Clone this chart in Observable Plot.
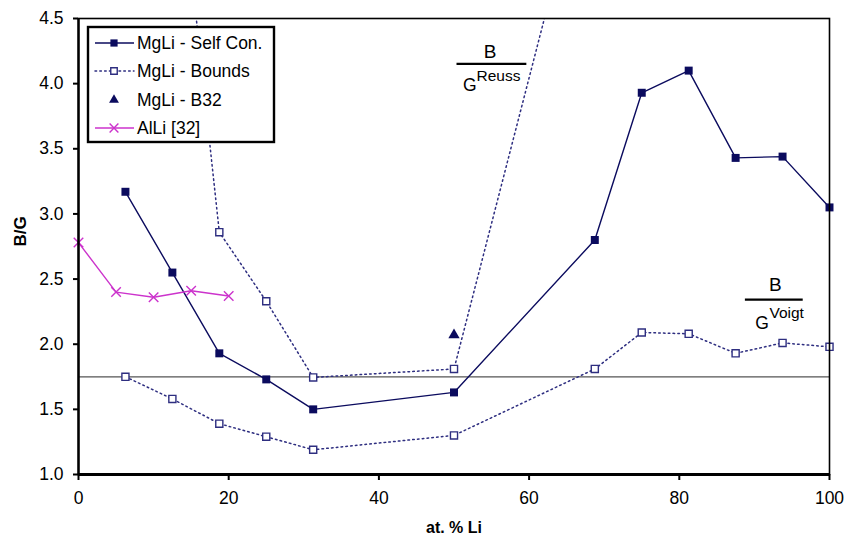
<!DOCTYPE html>
<html><head><meta charset="utf-8">
<script src="https://cdn.jsdelivr.net/npm/d3@7"></script>
<script src="https://cdn.jsdelivr.net/npm/@observablehq/plot@0.6"></script>
<style>
body{margin:0;background:#fff;font-family:"Liberation Sans",Arial,sans-serif;}
</style></head><body><div id="chart"></div>
<script>
// ---- data ----
const selfConX = [6.25, 12.5, 18.75, 25, 31.25, 50, 68.75, 75, 81.25, 87.5, 93.75, 100];
const selfConY = [3.17, 2.55, 1.93, 1.73, 1.50, 1.63, 2.80, 3.93, 4.10, 3.43, 3.44, 3.05];
const voigtX   = [6.25, 12.5, 18.75, 25, 31.25, 50, 68.75, 75, 81.25, 87.5, 93.75, 100];
const voigtY   = [1.75, 1.58, 1.39, 1.29, 1.19, 1.30, 1.81, 2.09, 2.08, 1.93, 2.01, 1.98];
const reussX   = [12.5, 18.75, 25, 31.25, 50, 68.75];
const reussY   = [6.2, 2.86, 2.33, 1.745, 1.81, 6.0];
const b32X     = [50];
const b32Y     = [2.07];
const alliX    = [0, 5, 10, 15, 20];
const alliY    = [2.78, 2.40, 2.36, 2.41, 2.37];
const refLine  = 1.75;
const xTicks   = [0, 20, 40, 60, 80, 100];
const yTicks   = [1.0, 1.5, 2.0, 2.5, 3.0, 3.5, 4.0, 4.5];
const legendLabels = ["MgLi - Self Con.", "MgLi - Bounds", "MgLi - B32", "AlLi [32]"];
// annotation anchors in data units
const reussB = {x: 54.8, y: 4.24}, reussBar = {x1: 50.4, x2: 59.7, y: 4.152},
      reussG = {x: 51.2, y: 3.99}, reussSup = {x: 53.0, y: 4.062};
const voigtB = {x: 92.8, y: 2.458}, voigtBar = {x1: 88.8, x2: 96.5, y: 2.343},
      voigtG = {x: 90.1, y: 2.161}, voigtSup = {x: 92.0, y: 2.238};

const zip = (xs, ys) => xs.map((x, i) => ({x, y: ys[i]}));
const selfCon = zip(selfConX, selfConY);
const voigt = zip(voigtX, voigtY);
const reuss = zip(reussX, reussY);
const b32 = zip(b32X, b32Y);
const alli = zip(alliX, alliY);

const NAVY = "#0b0b5e", BOUND = "#2e2e80", MAG = "#cc33cc";
const dots = "1.6,3.2";

const plot = Plot.plot({
  width: 847, height: 543,
  marginLeft: 78, marginRight: 18, marginTop: 18, marginBottom: 69,
  style: {fontFamily: "'Liberation Sans', Arial, sans-serif", fontSize: "17px", color: "#000", background: "#fff", overflow: "visible"},
  x: {domain: [0, 100]},
  y: {domain: [1, 4.5]},
  marks: [
    Plot.ruleY([refLine], {stroke: "#555", strokeWidth: 1.3}),
    Plot.line(reuss, {x: "x", y: "y", stroke: BOUND, strokeWidth: 1.5, strokeDasharray: dots, strokeLinecap: "round", clip: true}),
    Plot.line(voigt, {x: "x", y: "y", stroke: BOUND, strokeWidth: 1.5, strokeDasharray: dots, strokeLinecap: "round", clip: true}),
    Plot.line(selfCon, {x: "x", y: "y", stroke: NAVY, strokeWidth: 1.4}),
    Plot.line(alli, {x: "x", y: "y", stroke: MAG, strokeWidth: 1.4}),
    Plot.dot(reuss, {x: "x", y: "y", symbol: "square", r: 4, stroke: BOUND, fill: "#fff", strokeWidth: 1.4, clip: true}),
    Plot.dot(voigt, {x: "x", y: "y", symbol: "square", r: 4, stroke: BOUND, fill: "#fff", strokeWidth: 1.4}),
    Plot.dot(selfCon, {x: "x", y: "y", symbol: "square", r: 4.5, fill: NAVY, stroke: "none"}),
    Plot.dot(b32, {x: "x", y: "y", symbol: "triangle", r: 4.2, fill: NAVY, stroke: "none"}),
    Plot.dot(alli, {x: "x", y: "y", symbol: "times", r: 4.4, stroke: MAG, strokeWidth: 1.4}),
    // annotations
    Plot.text([reussB], {x: "x", y: "y", text: () => "B", fontSize: 19}),
    Plot.ruleY([reussBar], {x1: "x1", x2: "x2", y: "y", stroke: "#000", strokeWidth: 2.2}),
    Plot.text([reussG], {x: "x", y: "y", text: () => "G", fontSize: 17.5, textAnchor: "start"}),
    Plot.text([reussSup], {x: "x", y: "y", text: () => "Reuss", fontSize: 15.5, textAnchor: "start"}),
    Plot.text([voigtB], {x: "x", y: "y", text: () => "B", fontSize: 19}),
    Plot.ruleY([voigtBar], {x1: "x1", x2: "x2", y: "y", stroke: "#000", strokeWidth: 2.2}),
    Plot.text([voigtG], {x: "x", y: "y", text: () => "G", fontSize: 17.5, textAnchor: "start"}),
    Plot.text([voigtSup], {x: "x", y: "y", text: () => "Voigt", fontSize: 15.5, textAnchor: "start"}),
    // frame & axes
    Plot.frame({stroke: "#000", strokeWidth: 1.6}),
    Plot.axisX({ticks: xTicks, tickSize: 6, tickPadding: 11, fontSize: 17.5, label: null, strokeWidth: 2}),
    Plot.axisY({ticks: yTicks, tickSize: 5, tickPadding: 10, fontSize: 17.5, label: null, tickFormat: d3.format(".1f"), strokeWidth: 2}),
    Plot.ruleX([0], {stroke: "#000", strokeWidth: 2.4}),
    Plot.ruleY([1], {stroke: "#000", strokeWidth: 3}),
    Plot.text(["at. % Li"], {frameAnchor: "bottom", dy: 58, fontWeight: "bold", fontSize: 16}),
    Plot.text(["B/G"], {frameAnchor: "left", dx: -58, rotate: -90, fontWeight: "bold", fontSize: 17})
  ]
});

// ---- legend (drawn into the same SVG) ----
const svg = d3.select(plot);
const lg = svg.append("g").attr("transform", "translate(88,27)");
lg.append("rect").attr("width", 186).attr("height", 115).attr("fill", "#fff").attr("stroke", "#000").attr("stroke-width", 2.4);
const rowY = [16, 44, 73, 101];
const styles = [
  {stroke: NAVY, dash: null, sym: d3.symbolSquare, fill: NAVY, mstroke: "none", size: 52, line: true},
  {stroke: BOUND, dash: dots, sym: d3.symbolSquare, fill: "#fff", mstroke: BOUND, size: 42, line: true},
  {stroke: NAVY, dash: null, sym: d3.symbolTriangle, fill: NAVY, mstroke: "none", size: 42, line: false},
  {stroke: MAG, dash: null, sym: d3.symbolTimes, fill: "none", mstroke: MAG, size: 52, line: true}
];
legendLabels.forEach((lab, i) => {
  const s = styles[i], y = rowY[i];
  const g = lg.append("g").attr("transform", `translate(0,${y})`);
  if (s.line) {
    const l = g.append("line").attr("x1", 7).attr("x2", 46).attr("y1", 0).attr("y2", 0)
      .attr("stroke", s.stroke).attr("stroke-width", 1.5);
    if (s.dash) l.attr("stroke-dasharray", s.dash).attr("stroke-linecap", "round");
  }
  g.append("path").attr("d", d3.symbol(s.sym, s.size)()).attr("transform", "translate(26,0)")
    .attr("fill", s.fill).attr("stroke", s.mstroke).attr("stroke-width", 1.4);
  g.append("text").attr("x", 49).attr("y", 0).attr("dy", "0.35em").attr("text-anchor", "start")
    .attr("font-size", 17.5).attr("fill", "#000").text(lab);
});

document.getElementById("chart").appendChild(plot);
</script>
</body></html>
